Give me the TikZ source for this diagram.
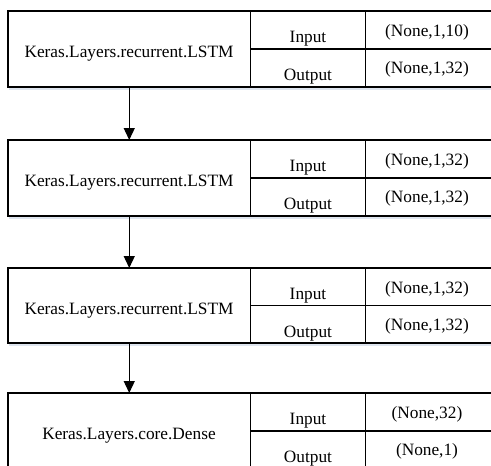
\documentclass[tikz,border=0pt]{standalone}
\usepackage{fontspec}
\setmainfont{Liberation Serif}
\usetikzlibrary{arrows.meta,shadows}
\definecolor{shadecol}{RGB}{190,205,225}
\newcommand\kblock[6]{% #1 name, #2 top, #3 height, #4 left text, #5 value1, #6 value2
  \pgfmathsetmacro\hh{#3/2}
  \node[cell, minimum width=242.5pt, minimum height=#3pt] (#1) at (8,#2) {};
  \node[cell, minimum width=115pt, minimum height=\hh pt] (#1in) at (250.5,#2) {};
  \node[cell, minimum width=130pt, minimum height=\hh pt] (#1inv) at (365.5,#2) {};
  \node[cell, minimum width=115pt, minimum height=\hh pt] (#1out) at (250.5,#2+\hh) {};
  \node[cell, minimum width=130pt, minimum height=\hh pt] (#1outv) at (365.5,#2+\hh) {};
  \node[txt] (#1t) at (129,#2+46) {#4};
  \node[txt] (#1int) at (308,#2+31.5) {Input};
  \node[txt] (#1outt) at (308,#2+69) {Output};
  \node[txt] (#1invt) at (427,#2+25) {#5};
  \node[txt] (#1outvt) at (427,#2+62.5) {#6};
}
\begin{document}
\begin{tikzpicture}[x=1pt,y=-1pt,
  cell/.style={draw=black, line width=1.2pt, inner sep=0pt, outer sep=0pt,
    anchor=north west, fill=white,
    drop shadow={shadow xshift=1pt, shadow yshift=-2.5pt, opacity=0.5, fill=shadecol}},
  txt/.style={font=\fontsize{17.3}{20}\selectfont, inner sep=0pt, anchor=base},
  flow/.style={-{Triangle[width=11pt,length=12pt]}, line width=1.3pt}]
\useasboundingbox[fill=white] (0,0) rectangle (491,466);
\kblock{ba}{11}{76}{Keras.Layers.recurrent.LSTM}{(None,1,10)}{(None,1,32)}
\kblock{bb}{140}{76}{Keras.Layers.recurrent.LSTM}{(None,1,32)}{(None,1,32)}
\kblock{bc}{268}{75}{Keras.Layers.recurrent.LSTM}{(None,1,32)}{(None,1,32)}
\kblock{bd}{393}{76}{Keras.Layers.core.Dense}{(None,32)}{(None,1)}
\draw[flow] (ba.south) -- (bb.north);
\draw[flow] (bb.south) -- (bc.north);
\draw[flow] (bc.south) -- (bd.north);
\end{tikzpicture}
\end{document}
